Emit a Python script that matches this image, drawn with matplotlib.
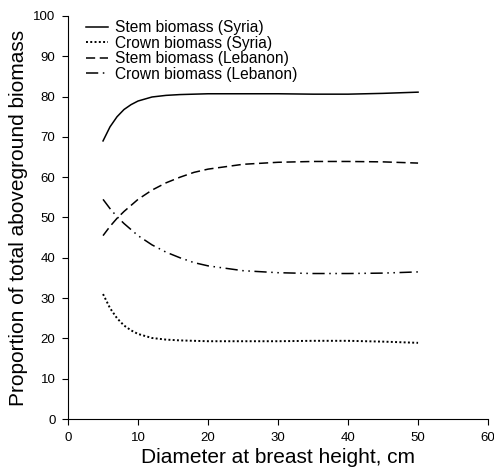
import matplotlib
matplotlib.use("Agg")
import matplotlib.pyplot as plt

plt.rcParams['font.family'] = ['Liberation Sans', 'DejaVu Sans']

dbh = [5, 6, 7, 8, 9, 10, 12, 14, 16, 18, 20, 25, 30, 35, 40, 45, 50]
stem_syria = [69, 72.5, 75, 76.8, 78, 78.9, 79.9, 80.3, 80.5, 80.6, 80.7, 80.7, 80.7, 80.6, 80.6, 80.8, 81.1]
crown_syria = [31, 27.5, 25, 23.2, 22, 21.1, 20.1, 19.7, 19.5, 19.4, 19.3, 19.3, 19.3, 19.4, 19.4, 19.2, 18.9]
stem_lebanon = [45.5, 47.8, 49.8, 51.5, 53, 54.5, 56.8, 58.6, 60, 61.2, 62, 63.2, 63.7, 63.9, 63.9, 63.8, 63.5]
crown_lebanon = [54.5, 52.2, 50.2, 48.5, 47, 45.5, 43.2, 41.4, 40, 38.8, 38, 36.8, 36.3, 36.1, 36.1, 36.2, 36.5]

fig = plt.figure(figsize=(4.94, 4.70), dpi=100)
ax = fig.add_axes([0.1377, 0.1085, 0.8503, 0.8575])

lw = 1.1
ax.plot(dbh, stem_syria, color='black', lw=lw, ls='-', label='Stem biomass (Syria)')
ax.plot(dbh, crown_syria, color='black', lw=1.4, ls=(0, (1, 1.2)), label='Crown biomass (Syria)')
ax.plot(dbh, stem_lebanon, color='black', lw=lw, ls=(0, (6, 3)), label='Stem biomass (Lebanon)')
ax.plot(dbh, crown_lebanon, color='black', lw=lw, ls=(0, (8, 3, 1, 3, 1, 3)), label='Crown biomass (Lebanon)')

ax.set_xlim(0, 60)
ax.set_ylim(0, 100)
ax.set_xticks(range(0, 61, 10))
ax.set_yticks(range(0, 101, 10))
ax.spines['top'].set_visible(False)
ax.spines['right'].set_visible(False)
ax.tick_params(direction='out', length=4, width=0.8, labelsize=9.5, pad=5)
ax.set_xlabel('Diameter at breast height, cm', fontsize=15, labelpad=3)
ax.set_ylabel('Proportion of total aboveground biomass', fontsize=15, labelpad=4)

ax.legend(loc='upper left', bbox_to_anchor=(0.02, 1.012), frameon=False, fontsize=11.2,
          handlelength=1.45, handletextpad=0.45, labelspacing=0.03, borderaxespad=0.2)

fig.savefig('out.png', dpi=100)
